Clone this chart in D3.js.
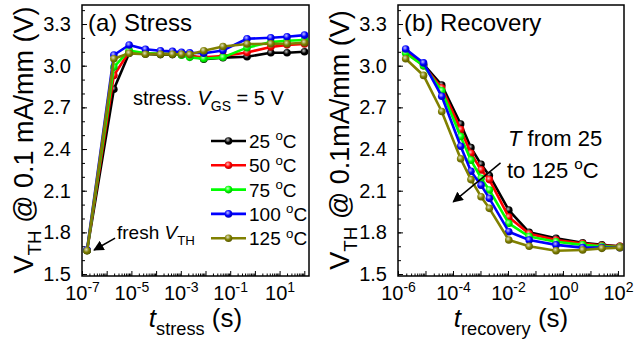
<!DOCTYPE html>
<html>
<head>
<meta charset="utf-8">
<script src="https://cdn.jsdelivr.net/npm/d3@7"></script>
<style>
  body { margin: 0; background: #fff; }
  svg { display: block; }
  text { font-family: "Liberation Sans", Arial, sans-serif; fill: #000; }
</style>
</head>
<body>
<svg id="chart" width="636" height="345"></svg>
<script>
// temperatures and colours of the five series
const temps = ["25", "50", "75", "100", "125"];
const colors = ["#000000", "#ff0000", "#00ff00", "#0000ff", "#808000"];

// (a) stress: first point is the fresh device
const stressTimes = [1.6e-7, 1.95e-6, 8.1e-6, 3.7e-5, 1.5e-4, 4.6e-4, 1.07e-3, 2.3e-3, 8.5e-3, 5.1e-2, 0.48, 4.4, 20, 102];
const stress25  = [1.670, 2.83, 3.090, 3.085, 3.080, 3.080, 3.080, 3.075, 3.046, 3.058, 3.064, 3.093, 3.093, 3.100];
const stress50  = [1.670, 2.93, 3.100, 3.090, 3.085, 3.085, 3.080, 3.070, 3.060, 3.070, 3.095, 3.135, 3.150, 3.156];
const stress75  = [1.670, 2.99, 3.110, 3.090, 3.085, 3.085, 3.075, 3.060, 3.050, 3.060, 3.130, 3.170, 3.180, 3.185];
const stress100 = [1.675, 3.077, 3.149, 3.118, 3.108, 3.103, 3.096, 3.093, 3.090, 3.110, 3.194, 3.201, 3.208, 3.220];
const stress125 = [1.668, 3.050, 3.089, 3.082, 3.082, 3.082, 3.082, 3.080, 3.108, 3.138, 3.156, 3.158, 3.158, 3.165];

// (b) recovery
const recTimes = [1.9e-6, 8.5e-6, 3.9e-5, 1.9e-4, 4.5e-4, 1.05e-3, 2.1e-3, 1.07e-2, 5.9e-2, 0.56, 5.2, 26, 117];
const rec25  = [3.10, 3.01, 2.86, 2.58, 2.41, 2.29, 2.21, 1.96, 1.800, 1.757, 1.725, 1.710, 1.700];
const rec50  = [3.10, 3.00, 2.84, 2.54, 2.37, 2.25, 2.18, 1.91, 1.790, 1.745, 1.720, 1.705, 1.700];
const rec75  = [3.09, 3.00, 2.82, 2.49, 2.32, 2.19, 2.105, 1.865, 1.770, 1.733, 1.710, 1.700, 1.695];
const rec100 = [3.12, 3.02, 2.78, 2.42, 2.24, 2.14, 2.045, 1.805, 1.745, 1.710, 1.690, 1.690, 1.690];
const rec125 = [3.05, 2.93, 2.67, 2.33, 2.18, 2.057, 1.973, 1.745, 1.700, 1.668, 1.673, 1.685, 1.690];

const yTicks = ["1.5", "1.8", "2.1", "2.4", "2.7", "3.0", "3.3"];

const svg = d3.select("#chart");
const defs = svg.append("defs");

// sphere-like markers (Origin style)
colors.forEach((c, i) => {
    const g = defs.append("radialGradient")
        .attr("id", "ball" + i)
        .attr("cx", "40%").attr("cy", "35%").attr("r", "65%");
    g.append("stop").attr("offset", "0%").attr("stop-color", d3.interpolateRgb(c, "#fff")(0.75));
    g.append("stop").attr("offset", "55%").attr("stop-color", c);
    g.append("stop").attr("offset", "100%").attr("stop-color", d3.interpolateRgb(c, "#000")(0.3));
});

defs.append("marker")
    .attr("id", "arrow")
    .attr("viewBox", "0 0 10 10")
    .attr("refX", 9).attr("refY", 5)
    .attr("markerWidth", 7).attr("markerHeight", 7)
    .attr("orient", "auto")
    .append("path")
    .attr("d", "M0,0 L10,5 L0,10 z")
    .attr("fill", "#000");

// write text made of plain / italic / sub / sup pieces
function rich(sel, parts, size) {
    let shift = 0;
    parts.forEach(p => {
        const ts = sel.append("tspan").text(p.t);
        let target = 0;
        if (p.s === "sub") target = size * 0.3;
        if (p.s === "sup") target = -size * 0.4;
        if (target !== shift) ts.attr("dy", target - shift);
        shift = target;
        if (p.s === "sub" || p.s === "sup") ts.attr("font-size", size * 0.7);
        if (p.i) ts.attr("font-style", "italic");
    });
}

function panel(opts) {
    const g = svg.append("g");
    const x = d3.scaleLog().domain(opts.xDomain).range([opts.left, opts.right]);
    const y = d3.scaleLinear().domain([1.486, 3.437]).range([276, 5]);

    // y ticks: minor every 0.1, major every 0.3
    const yMinor = d3.range(15, 35).map(v => v / 10);
    g.append("g")
        .attr("transform", `translate(${opts.left},0)`)
        .call(d3.axisLeft(y).tickValues(yMinor).tickSize(-3).tickFormat(""))
        .call(a => a.select(".domain").remove());
    g.append("g")
        .attr("transform", `translate(${opts.left},0)`)
        .call(d3.axisLeft(y).tickValues(yTicks.map(Number)).tickSize(-5).tickPadding(11)
            .tickFormat((d, i) => yTicks[i]))
        .call(a => a.select(".domain").remove())
        .call(a => a.selectAll("text").attr("font-size", 20).attr("font-family", null));

    // x ticks: log minors, decades, labelled decades
    const e0 = Math.floor(Math.log10(opts.xDomain[0]));
    const e1 = Math.ceil(Math.log10(opts.xDomain[1]));
    const minors = [], decades = [];
    for (let e = e0; e <= e1; e++) {
        for (let k = 1; k <= 9; k++) {
            const v = k * Math.pow(10, e);
            if (v < opts.xDomain[0] * 0.999 || v > opts.xDomain[1]) continue;
            if (k === 1) decades.push(v); else minors.push(v);
        }
    }
    g.append("g")
        .attr("transform", "translate(0,276)")
        .call(d3.axisBottom(x).tickValues(minors).tickSize(-2.5).tickFormat(""))
        .call(a => a.select(".domain").remove());
    const xAxis = g.append("g")
        .attr("transform", "translate(0,276)")
        .call(d3.axisBottom(x).tickValues(decades).tickSize(-5).tickPadding(10).tickFormat(""))
        .call(a => a.select(".domain").remove());
    xAxis.selectAll(".tick text")
        .attr("font-family", null)
        .attr("font-size", 20)
        .each(function (d) {
            const e = Math.round(Math.log10(d));
            if ((e - opts.labelFrom) % 2 !== 0) return;
            rich(d3.select(this), [{ t: "10" }, { t: String(e) }].map((p, k) => k ? { t: p.t, s: "sup" } : p), 20);
        });

    // frame
    g.append("rect")
        .attr("x", opts.left).attr("y", 5)
        .attr("width", opts.right - opts.left).attr("height", 271)
        .attr("fill", "none").attr("stroke", "#000").attr("stroke-width", 1.5);

    // series
    const line = d3.line().x(d => x(d[0])).y(d => y(d[1]));
    opts.series.forEach((vals, i) => {
        const pts = vals.map((v, j) => [opts.times[j], v]);
        g.append("path").datum(pts)
            .attr("d", line)
            .attr("fill", "none")
            .attr("stroke", colors[i])
            .attr("stroke-width", 2.6)
            .attr("stroke-linejoin", "round");
        g.append("g").selectAll("circle").data(pts).join("circle")
            .attr("cx", d => x(d[0])).attr("cy", d => y(d[1]))
            .attr("r", 3.8)
            .attr("fill", `url(#ball${i})`);
    });

    // panel title
    g.append("text")
        .attr("x", opts.left + 6).attr("y", 31)
        .attr("font-size", 24)
        .text(opts.title);

    // axis titles
    const mid = (opts.left + opts.right) / 2;
    const xt = g.append("text")
        .attr("x", mid).attr("y", 327)
        .attr("text-anchor", "middle")
        .attr("font-size", 26);
    rich(xt, [{ t: "t", i: true }, { t: opts.xSub, s: "sub" }, { t: " (s)" }], 26);

    const yt = g.append("text")
        .attr("transform", `translate(${opts.left - 49},140) rotate(-90)`)
        .attr("text-anchor", "middle")
        .attr("font-size", 27);
    rich(yt, [{ t: "V" }, { t: "TH", s: "sub" }, { t: opts.yRest }], 27);

    return { g, x, y };
}

// (a) Stress
const a = panel({
    left: 82, right: 309,
    xDomain: [1e-7, Math.pow(10, 2.19)],
    labelFrom: -7,
    times: stressTimes,
    series: [stress25, stress50, stress75, stress100, stress125],
    title: "(a) Stress",
    xSub: "stress",
    yRest: " @ 0.1 mA/mm (V)"
});

const st = a.g.append("text").attr("x", 133).attr("y", 105).attr("font-size", 20);
rich(st, [{ t: "stress. " }, { t: "V", i: true }, { t: "GS", s: "sub" }, { t: " = 5 V" }], 20);

// legend
temps.forEach((t, i) => {
    const ly = 141 + i * 24.3;
    const lg = a.g.append("g");
    lg.append("line")
        .attr("x1", 211).attr("x2", 246).attr("y1", ly).attr("y2", ly)
        .attr("stroke", colors[i]).attr("stroke-width", 2.6);
    lg.append("circle").attr("cx", 228.5).attr("cy", ly).attr("r", 3.8).attr("fill", `url(#ball${i})`);
    const tx = lg.append("text").attr("x", 249).attr("y", ly + 7).attr("font-size", 19);
    rich(tx, [{ t: t + " " }, { t: "o", s: "sup" }, { t: "C" }], 19);
});

// fresh VTH annotation
a.g.append("line")
    .attr("x1", a.x(Math.pow(10, -5.66))).attr("y1", a.y(1.759))
    .attr("x2", a.x(Math.pow(10, -6.51))).attr("y2", a.y(1.673))
    .attr("stroke", "#000").attr("stroke-width", 1.5)
    .attr("marker-end", "url(#arrow)");
const fr = a.g.append("text").attr("x", 117).attr("y", 239).attr("font-size", 19);
rich(fr, [{ t: "fresh " }, { t: "V", i: true }, { t: "TH", s: "sub" }], 19);

// (b) Recovery
const b = panel({
    left: 398, right: 624,
    xDomain: [1e-6, Math.pow(10, 2.22)],
    labelFrom: -6,
    times: recTimes,
    series: [rec25, rec50, rec75, rec100, rec125],
    title: "(b) Recovery",
    xSub: "recovery",
    yRest: " @ 0.1mA/mm (V)"
});

b.g.append("line")
    .attr("x1", b.x(Math.pow(10, -2.27))).attr("y1", b.y(2.30))
    .attr("x2", b.x(Math.pow(10, -3.99))).attr("y2", b.y(2.02))
    .attr("stroke", "#000").attr("stroke-width", 1.5)
    .attr("marker-end", "url(#arrow)");
const t1 = b.g.append("text").attr("x", 508).attr("y", 146).attr("font-size", 22);
rich(t1, [{ t: "T", i: true }, { t: " from 25" }], 22);
const t2 = b.g.append("text").attr("x", 507).attr("y", 178).attr("font-size", 22);
rich(t2, [{ t: "to 125 " }, { t: "o", s: "sup" }, { t: "C" }], 22);
</script>
</body>
</html>
